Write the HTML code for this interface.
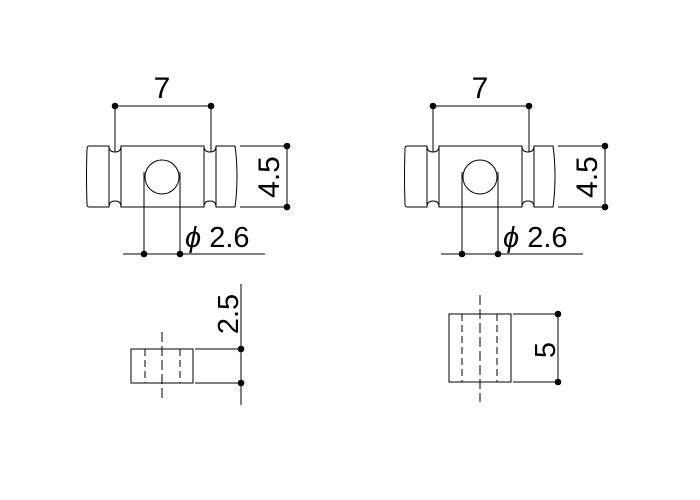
<!DOCTYPE html>
<html><head><style>
html,body{margin:0;padding:0;background:#fff;}
svg{display:block}
text{font-family:"Liberation Sans",sans-serif;fill:#000}
</style></head><body>
<svg width="700" height="500" viewBox="0 0 700 500" xmlns="http://www.w3.org/2000/svg">
<defs>
<g id="top" fill="none" stroke="#000" stroke-width="1">
  <path d="M89,146 L109,146 L109,207 L89,207 Q87,207 87,204 Q86,176 87,149 Q87,146 89,146Z"/>
  <path d="M109,146 Q109,152 115,152 Q121,152 121,146"/>
  <path d="M109,207 Q109,201 115,201 Q121,201 121,207"/>
  <rect x="121" y="146" width="83" height="61"/>
  <path d="M204,146 Q204,152 210,152 Q216,152 216,146"/>
  <path d="M204,207 Q204,201 210,201 Q216,201 216,207"/>
  <path d="M216,146 L235,146 Q237,160 237,176 Q237,193 235,207 L216,207Z"/>
  <circle cx="162" cy="177" r="17"/>
  <line x1="115" y1="106" x2="211" y2="106"/>
  <line x1="115" y1="106" x2="115" y2="152"/>
  <line x1="211" y1="106" x2="211" y2="152"/>
  <line x1="240" y1="146" x2="287" y2="146"/>
  <line x1="240" y1="207" x2="287" y2="207"/>
  <line x1="287" y1="146" x2="287" y2="207"/>
  <line x1="144" y1="172" x2="144" y2="254"/>
  <line x1="180" y1="172" x2="180" y2="254"/>
  <line x1="123" y1="254" x2="265" y2="254"/>
  <g fill="#000" stroke="none">
    <circle cx="115" cy="106" r="3.3"/><circle cx="211" cy="106" r="3.3"/>
    <circle cx="287" cy="146" r="3.3"/><circle cx="287" cy="207" r="3.3"/>
    <circle cx="144" cy="254" r="3.3"/><circle cx="180" cy="254" r="3.3"/>
  </g>
</g>
</defs>
<use href="#top"/>
<use href="#top" transform="translate(318,0)"/>
<text x="162" y="98" font-size="30" text-anchor="middle">7</text>
<text x="480" y="98" font-size="30" text-anchor="middle">7</text>
<text x="185" y="247" font-size="29"><tspan font-style="italic">ϕ</tspan> 2.6</text>
<text x="503" y="247" font-size="29"><tspan font-style="italic">ϕ</tspan> 2.6</text>
<text transform="translate(279,177) rotate(-90)" font-size="30" text-anchor="middle">4.5</text>
<text transform="translate(597,177) rotate(-90)" font-size="30" text-anchor="middle">4.5</text>

<g fill="none" stroke="#000" stroke-width="1">
  <rect x="131" y="349" width="62" height="34"/>
  <line x1="145" y1="349" x2="145" y2="383" stroke-dasharray="7,4"/>
  <line x1="180" y1="349" x2="180" y2="383" stroke-dasharray="7,4"/>
  <line x1="162" y1="332" x2="162" y2="402" stroke-dasharray="10,4"/>
  <line x1="195" y1="349" x2="241" y2="349"/>
  <line x1="195" y1="383" x2="241" y2="383"/>
  <line x1="241" y1="284" x2="241" y2="405"/>
</g>
<circle cx="241" cy="349" r="3.3"/><circle cx="241" cy="383" r="3.3"/>
<text transform="translate(238,314) rotate(-90)" font-size="29" text-anchor="middle">2.5</text>

<g fill="none" stroke="#000" stroke-width="1">
  <rect x="449" y="314" width="62" height="68"/>
  <line x1="462" y1="314" x2="462" y2="382" stroke-dasharray="7,4"/>
  <line x1="497" y1="314" x2="497" y2="382" stroke-dasharray="7,4"/>
  <line x1="480" y1="295" x2="480" y2="402" stroke-dasharray="10,4"/>
  <line x1="513" y1="314" x2="558" y2="314"/>
  <line x1="513" y1="382" x2="558" y2="382"/>
  <line x1="558" y1="314" x2="558" y2="382"/>
</g>
<circle cx="558" cy="314" r="3.3"/><circle cx="558" cy="382" r="3.3"/>
<text transform="translate(555,350) rotate(-90)" font-size="29" text-anchor="middle">5</text>
</svg>
</body></html>
